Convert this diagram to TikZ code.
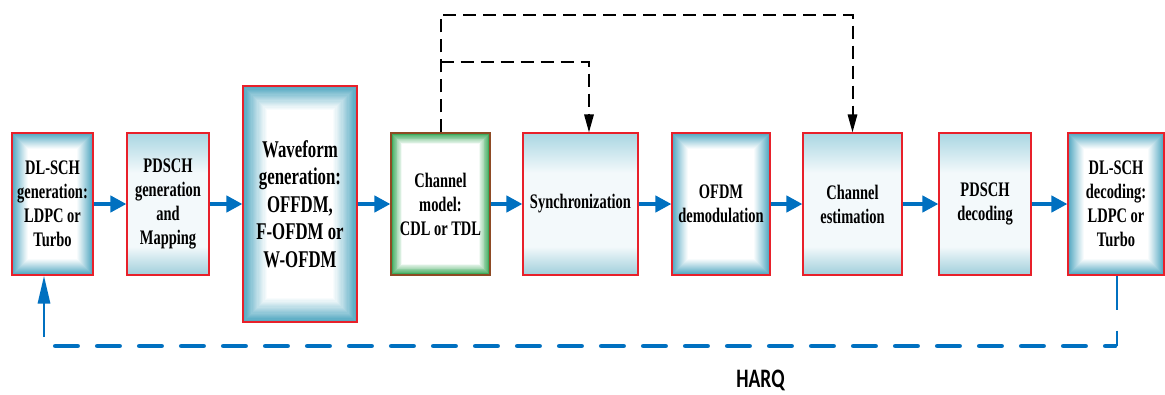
\documentclass[tikz,border=0pt]{standalone}
\usepackage{fontspec}
\setmainfont{Liberation Serif}[FakeStretch=0.7]
\newfontfamily\harqfont{Carlito}[FakeStretch=0.73]
\usetikzlibrary{arrows.meta,calc}
\definecolor{bevteal}{HTML}{4FA6C0}
\definecolor{bevgreen}{HTML}{2EA34F}
\definecolor{gradtop}{HTML}{A9D6E2}
\definecolor{gradbot}{HTML}{9FCEDB}
\definecolor{gradmid}{HTML}{F3F9FB}
\definecolor{boxred}{HTML}{E8202A}
\definecolor{harqblue}{HTML}{0070C0}
\definecolor{brownred}{HTML}{8E4A24}
\pgfdeclareverticalshading{gradbox}{100bp}{color(0bp)=(gradbot); color(25bp)=(gradbot); color(35bp)=(gradmid); color(61bp)=(gradmid); color(75bp)=(gradtop); color(100bp)=(gradtop)}
\tikzset{
  box/.style={draw=boxred, line width=0.8pt, minimum height=106.5pt, align=center,
    font=\bfseries\fontsize{15.5}{18}\selectfont, inner sep=0pt},
  gradfill/.style={shading=gradbox},
  bevel/.style n args={3}{path picture={
    \foreach \i in {0,...,#3}{
      \pgfmathsetmacro\pc{100*(1-\i/#3)^1.1}
      \fill[#1!\pc!white] ($(path picture bounding box.north west)+(\i*#2 pt,-\i*#2 pt)$)
        rectangle ($(path picture bounding box.south east)+(-\i*#2 pt,\i*#2 pt)$);
    }}},
  bluearrow/.style={draw=harqblue, line width=3pt, -{Triangle[length=12pt,width=12pt]}},
  blkdash/.style={draw=black, line width=1.5pt, dash pattern=on 10pt off 5pt, -{Triangle[length=13.5pt,width=7pt]}},
  harqthick/.style={draw=harqblue, line width=3.5pt, line cap=round, dash pattern=on 16.75pt off 14.75pt},
  harqthin/.style={draw=harqblue, line width=2.2pt, dash pattern=on 25.5pt off 15.75pt},
  harqup/.style={draw=harqblue, line width=2.2pt, -{Triangle[length=21pt,width=9pt]}},
}
\begin{document}
\begin{tikzpicture}[x=0.75pt, y=-0.75pt]
\useasboundingbox (0,0) rectangle (1165,394);
\node[box, bevel={bevteal}{0.75}{16}, minimum width=60.75pt] (b1) at (52.5,204) {DL-SCH\\generation:\\LDPC or\\Turbo};
\node[box, gradfill, minimum width=61.5pt] (b2) at (168,204) {PDSCH\\generation\\and\\Mapping};
\node[box, bevel={bevteal}{0.9}{20}, minimum width=85.5pt, minimum height=177pt,
  font=\bfseries\fontsize{18}{20.6}\selectfont] (b3) at (300,204) {Waveform\\generation:\\OFFDM,\\F-OFDM or\\W-OFDM};
\node[box, draw=brownred, bevel={bevgreen}{0.6}{14}, minimum width=74.25pt] (b4) at (440.5,204) {Channel\\model:\\CDL or TDL};
\node[box, gradfill, minimum width=86.25pt] (b5) at (580.5,204) {Synchronization};
\node[box, bevel={bevteal}{0.75}{16}, minimum width=73.5pt] (b6) at (721,204) {OFDM\\demodulation};
\node[box, gradfill, minimum width=74.25pt] (b7) at (852.5,204) {Channel\\estimation};
\node[box, gradfill, minimum width=69pt] (b8) at (985,204) {PDSCH\\decoding};
\node[box, bevel={bevteal}{0.75}{16}, minimum width=72pt] (b9) at (1116,204) {DL-SCH\\decoding:\\LDPC or\\Turbo};

\draw[bluearrow] (b1) -- (b2);
\draw[bluearrow] (b2) -- (b3);
\draw[bluearrow] (b3) -- (b4);
\draw[bluearrow] (b4) -- (b5);
\draw[bluearrow] (b5) -- (b6);
\draw[bluearrow] (b6) -- (b7);
\draw[bluearrow] (b7) -- (b8);
\draw[bluearrow] (b8) -- (b9);

\coordinate (topR) at (852.5,15);
\coordinate (brL) at (440.5,62);
\coordinate (brR) at (589,62);
\draw[blkdash] (b4.north) |- (topR) -- (b7.north);
\draw[blkdash] (brL) -- (brR) -- (brR |- b5.north);

\coordinate (hR) at (1117,346);
\coordinate (hRend) at (1115,346);
\coordinate (hL) at (55.3,346);
\coordinate (hA) at (44,337);
\draw[harqthin] (b9.south -| hR) -- (hR);
\draw[harqthick] (hL) -- (hRend);
\draw[harqup] (hA) -- (hA |- b1.south);
\node[font=\harqfont\bfseries\fontsize{20}{24}\selectfont] (harq) at (760.5,380) {HARQ};
\end{tikzpicture}
\end{document}
